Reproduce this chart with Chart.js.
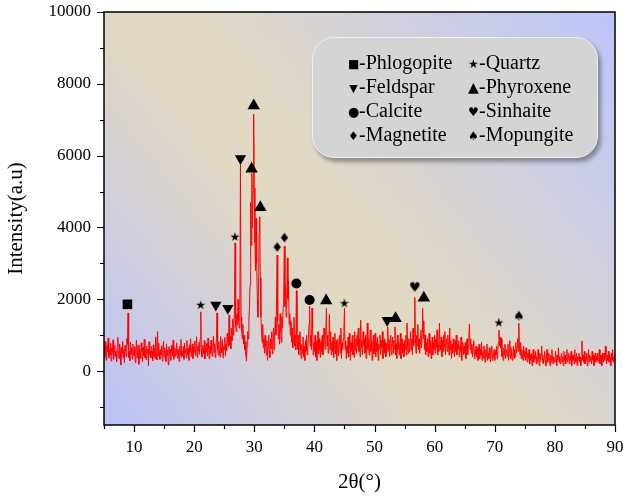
<!DOCTYPE html>
<html>
<head>
<meta charset="utf-8">
<script src="https://cdn.jsdelivr.net/npm/chart.js@4/dist/chart.umd.min.js"></script>
<style>
    html, body { margin: 0; padding: 0; background: #fff; }
    #wrap { position: relative; width: 624px; height: 497px; }
    #legend {
        position: absolute; left: 312px; top: 37px; width: 286px; height: 121px;
        box-sizing: border-box; border-radius: 22px; background: #d4d4d4;
        border: 1px solid #efefef; box-shadow: 3px 4px 4px rgba(0, 0, 0, 0.35);
        font-family: "Liberation Serif", "Times New Roman", serif; font-size: 20px; color: #000;
    }
    #legend .item { position: absolute; line-height: 24px; white-space: nowrap; }
    #legend .sym { display: inline-block; width: 11px; text-align: center; font-family: "DejaVu Sans", sans-serif; vertical-align: 1px; }
</style>
</head>
<body>
<div id="wrap">
    <canvas id="xrd" width="624" height="497"></canvas>
    <div id="legend"></div>
</div>
<script>
// scan grid (degrees 2-theta)
const twoThetaStart = 5;
const twoThetaStep = 0.1;

// measured intensity, one row per degree (5.0 ... 89.9), last value at 90.0
const intensity = [
    640, 380, 820, 470, 300, 710, 540, 920, 360, 590,
    450, 780, 280, 650, 510, 870, 330, 600, 720, 410,
    560, 260, 690, 940, 430, 350, 760, 520, 170, 670,
    480, 830, 370, 610, 240, 720, 560, 410, 900, 740,
    1620, 380, 560, 290, 810, 470, 640, 330, 750, 520,
    420, 680, 240, 590, 860, 360, 510, 730, 190, 620,
    470, 350, 790, 540, 260, 660, 430, 880, 380, 580,
    320, 700, 490, 610, 150, 820, 450, 560, 370, 690,
    540, 290, 730, 410, 620, 350, 950, 480, 310, 1100,
    420, 780, 520, 330, 600, 460, 710, 280, 570, 830,
    390, 640, 500, 270, 760, 440, 590, 180, 680, 490,
    610, 300, 720, 560, 420, 860, 330, 540, 650, 400,
    480, 790, 360, 620, 510, 270, 700, 450, 880, 380,
    560, 420, 690, 330, 780, 510, 620, 370, 850, 460,
    640, 300, 720, 530, 900, 410, 580, 760, 350, 680,
    520, 830, 440, 620, 960, 380, 700, 560, 810, 470,
    900, 1650, 560, 390, 720, 610, 480, 850, 340, 660,
    530, 770, 420, 920, 600, 350, 700, 480, 860, 570,
    410, 690, 980, 520, 760, 380, 640, 880, 1620, 600,
    450, 820, 570, 390, 960, 640, 510, 880, 370, 700,
    600, 940, 430, 760, 560, 1050, 820, 680, 1560, 720,
    980, 620, 1200, 850, 1450, 1000, 1300, 1600, 3570, 1250,
    1100, 1600, 1300, 2000, 1400, 1200, 1700, 5740, 1500, 1100,
    900, 1300, 750, 1000, 600, 820, 450, 280, 700, 1100,
    900, 1400, 1800, 2400, 4700, 3500, 5510, 4000, 5000, 7160,
    5100, 3600, 2800, 4260, 3000, 2000, 1500, 2200, 3840, 4300,
    2600, 1500, 1100, 800, 1300, 650, 900, 500, 1000, 700,
    450, 850, 300, 700, 1000, 550, 380, 900, 620, 1100,
    480, 800, 1200, 600, 950, 1500, 1000, 2000, 3230, 1400,
    900, 1300, 750, 1600, 1100, 800, 1500, 1200, 1800, 2200,
    3480, 1800, 2400, 1500, 2000, 3150, 2000, 2500, 1300, 1600,
    1000, 1400, 800, 1200, 650, 900, 1500, 700, 1000, 600,
    2240, 900, 600, 1000, 450, 800, 1100, 550, 350, 750,
    500, 950, 400, 700, 300, 850, 550, 1000, 450, 650,
    900, 1300, 1810, 700, 1000, 600, 1750, 1200, 450, 800,
    550, 1000, 400, 850, 300, 700, 1100, 480, 900, 620,
    380, 820, 550, 1000, 450, 700, 1200, 900, 600, 1100,
    1750, 700, 1000, 500, 900, 1590, 600, 1100, 450, 800,
    550, 950, 380, 700, 1050, 480, 850, 300, 650, 900,
    420, 750, 1000, 500, 1200, 350, 800, 600, 900, 1100,
    1750, 600, 850, 350, 700, 500, 950, 400, 1050, 650,
    300, 800, 550, 1000, 450, 750, 380, 1100, 600, 900,
    500, 1000, 700, 1200, 550, 900, 400, 1420, 650, 850,
    450, 1100, 700, 900, 500, 1000, 350, 800, 1340, 600,
    900, 450, 750, 1150, 550, 850, 300, 700, 1000, 480,
    650, 1050, 400, 800, 550, 950, 300, 750, 600, 1000,
    450, 850, 650, 1100, 350, 700, 900, 500, 800, 400,
    750, 600, 1230, 550, 900, 400, 800, 1000, 450, 700,
    950, 500, 850, 600, 1230, 450, 750, 350, 1000, 600,
    800, 450, 700, 1050, 350, 650, 900, 500, 750, 400,
    850, 600, 1000, 450, 1340, 700, 500, 900, 550, 800,
    1100, 600, 900, 450, 1200, 700, 800, 2050, 900, 500,
    1000, 700, 1300, 600, 900, 500, 800, 1150, 650, 1000,
    1750, 900, 1400, 600, 1000, 450, 800, 550, 900, 400,
    750, 1050, 500, 850, 350, 700, 950, 450, 800, 600,
    1000, 500, 900, 650, 1150, 450, 750, 550, 1340, 700,
    600, 950, 400, 850, 550, 1000, 650, 1100, 450, 800,
    900, 550, 1000, 700, 450, 1200, 600, 850, 350, 750,
    500, 900, 650, 400, 850, 550, 1000, 450, 750, 600,
    850, 400, 700, 550, 950, 300, 650, 800, 450, 700,
    500, 800, 350, 650, 900, 450, 700, 1000, 1310, 600,
    900, 500, 750, 400, 650, 850, 350, 600, 450, 700,
    400, 650, 300, 550, 750, 350, 600, 450, 800, 300,
    550, 350, 700, 450, 250, 600, 400, 750, 300, 500,
    350, 650, 450, 250, 550, 700, 300, 500, 400, 600,
    300, 550, 450, 700, 350, 600, 800, 1140, 700, 950,
    650, 900, 400, 550, 300, 650, 450, 750, 350, 500,
    600, 400, 750, 300, 550, 850, 350, 650, 450, 300,
    500, 700, 350, 600, 400, 800, 500, 650, 900, 550,
    1330, 700, 450, 800, 350, 600, 450, 300, 700, 400,
    550, 300, 650, 400, 250, 500, 350, 600, 200, 450,
    300, 500, 150, 400, 600, 250, 450, 350, 550, 200,
    400, 250, 600, 350, 150, 500, 300, 450, 700, 250,
    450, 200, 350, 550, 300, 150, 400, 600, 250, 350,
    500, 300, 150, 450, 250, 600, 350, 200, 400, 300,
    250, 550, 350, 150, 450, 300, 650, 250, 400, 200,
    350, 500, 250, 400, 150, 550, 300, 450, 200, 380,
    600, 250, 350, 500, 200, 400, 300, 550, 150, 450,
    300, 450, 200, 600, 350, 250, 500, 150, 400, 300,
    500, 250, 400, 150, 350, 840, 300, 450, 250, 550,
    200, 400, 300, 500, 150, 350, 600, 250, 450, 300,
    400, 200, 550, 300, 450, 150, 350, 500, 250, 400,
    300, 500, 250, 400, 600, 200, 350, 450, 150, 500,
    350, 250, 500, 300, 700, 400, 200, 450, 300, 550,
    250, 450, 350, 150, 500, 300, 600, 250, 400, 350,
    500
];

// phase markers: name, glyph, positions (2-theta) and heights
const phaseNames = ['Phlogopite', 'Quartz', 'Feldspar', 'Phyroxene', 'Calcite', 'Sinhaite', 'Magnetite', 'Mopungite'];
const phaseGlyphs = ['■', '★', '▼', '▲', '●', '♥', '♦', '♠'];
const phaseX = [
    [8.9],
    [21.1, 26.8, 45.0, 70.7],
    [23.6, 25.6, 27.7, 52.1],
    [29.55, 29.9, 31.0, 41.95, 53.5, 58.2],
    [37.0, 39.2],
    [56.7],
    [33.8, 35.0],
    [74.0]
];
const phaseY = [
    [1860],
    [1840, 3740, 1890, 1350],
    [1840, 1750, 5920, 1420],
    [5630, 7390, 4560, 1960, 1470, 2040],
    [2440, 1980],
    [2340],
    [3450, 3710],
    [1540]
];

const xTicks = [10, 20, 30, 40, 50, 60, 70, 80, 90];
const yTicks = [0, 2000, 4000, 6000, 8000, 10000];

const SERIF = '"Liberation Serif", "Times New Roman", serif';

// small canvas carrying a text glyph, used as a point style
const glyphCanvas = (ch, px) => {
    const c = document.createElement('canvas');
    c.width = px + 4;
    c.height = px + 4;
    const g = c.getContext('2d');
    g.fillStyle = '#000';
    g.font = `${px}px "DejaVu Sans"`;
    g.textAlign = 'center';
    g.textBaseline = 'middle';
    g.fillText(ch, c.width / 2, c.height / 2 + 1);
    return c;
};

const markerStyles = {
    'Phlogopite': { pointStyle: 'rect', pointRadius: 6.8 },
    'Quartz': { pointStyle: glyphCanvas('★', 12) },
    'Feldspar': { pointStyle: 'triangle', pointRadius: 6.5, rotation: 180 },
    'Phyroxene': { pointStyle: 'triangle', pointRadius: 7.2 },
    'Calcite': { pointStyle: 'circle', pointRadius: 5 },
    'Sinhaite': { pointStyle: glyphCanvas('♥', 13) },
    'Magnetite': { pointStyle: glyphCanvas('♦', 13) },
    'Mopungite': { pointStyle: glyphCanvas('♠', 13) }
};

const trace = intensity.map((v, i) => ({ x: twoThetaStart + i * twoThetaStep, y: v }));

const markerSets = phaseNames.map((name, k) => Object.assign({
    label: name,
    data: phaseX[k].map((x, j) => ({ x, y: phaseY[k][j] })),
    backgroundColor: '#000',
    borderColor: '#000',
    borderWidth: 0,
    pointRadius: 6,
    showLine: false,
    order: 0
}, markerStyles[name]));

// diagonal blue / beige fill behind the plot
const backdrop = {
    id: 'backdrop',
    beforeDraw(chart) {
        const { ctx, chartArea: a } = chart;
        const g = ctx.createLinearGradient(a.left, a.bottom, a.right, a.top);
        g.addColorStop(0, '#bcc2f8');
        g.addColorStop(0.4, '#e2d9c3');
        g.addColorStop(0.52, '#e0d8c6');
        g.addColorStop(1, '#bcc5fb');
        ctx.save();
        ctx.fillStyle = g;
        ctx.fillRect(a.left, a.top, a.right - a.left, a.bottom - a.top);
        ctx.restore();
    }
};

// frame plus major / minor tick marks outside the plot
const frame = {
    id: 'frame',
    afterDatasetsDraw(chart) {
        const { ctx, chartArea: a, scales } = chart;
        ctx.save();
        ctx.strokeStyle = '#000';
        ctx.lineWidth = 1.5;
        ctx.strokeRect(a.left, a.top, a.right - a.left, a.bottom - a.top);
        ctx.lineWidth = 1.2;
        ctx.beginPath();
        for (let v = -1000; v <= 10000; v += 1000) {
            const y = Math.round(scales.y.getPixelForValue(v)) + 0.5;
            const len = v % 2000 === 0 ? 7 : 4;
            ctx.moveTo(a.left, y);
            ctx.lineTo(a.left - len, y);
        }
        for (let v = 5; v <= 90; v += 5) {
            const x = Math.round(scales.x.getPixelForValue(v)) + 0.5;
            const len = v % 10 === 0 ? 7 : 4;
            ctx.moveTo(x, a.bottom);
            ctx.lineTo(x, a.bottom + len);
        }
        ctx.stroke();
        ctx.restore();
    }
};

// hidden tick marks only reserve the gap between axis and labels
const hiddenGrid = (len) => ({ display: true, drawOnChartArea: false, drawTicks: true, tickLength: len, color: 'rgba(0,0,0,0)' });

new Chart(document.getElementById('xrd'), {
    type: 'scatter',
    data: {
        datasets: [
            {
                label: 'XRD',
                data: trace,
                showLine: true,
                borderColor: '#ff0000',
                borderWidth: 1,
                pointRadius: 0,
                tension: 0,
                order: 1
            },
            ...markerSets
        ]
    },
    options: {
        responsive: false,
        animation: false,
        events: [],
        layout: { padding: { top: 12, right: 9, left: 0, bottom: 0 } },
        plugins: { legend: { display: false }, tooltip: { enabled: false } },
        scales: {
            x: {
                type: 'linear',
                min: 5,
                max: 90,
                grid: hiddenGrid(12),
                border: { display: false },
                afterFit: (s) => { s.height = 72; },
                afterBuildTicks: (s) => { s.ticks = xTicks.map(v => ({ value: v })); },
                ticks: { color: '#000', font: { family: SERIF, size: 17 }, padding: 0, maxRotation: 0, callback: v => String(v) },
                title: { display: true, text: '2θ(°)', color: '#000', font: { family: SERIF, size: 21 }, padding: { top: 0, bottom: 2 } }
            },
            y: {
                min: -1500,
                max: 10000,
                grid: hiddenGrid(13),
                border: { display: false },
                afterFit: (s) => { s.width = 104; },
                afterBuildTicks: (s) => { s.ticks = yTicks.map(v => ({ value: v })); },
                ticks: { color: '#000', font: { family: SERIF, size: 17 }, padding: 0, callback: v => String(v) },
                title: { display: true, text: 'Intensity(a.u)', color: '#000', font: { family: SERIF, size: 21 }, padding: { top: 4, bottom: 0 } }
            }
        }
    },
    plugins: [backdrop, frame]
});

// two-column phase key: left column at 35px, right column at 155px
const legendEl = document.getElementById('legend');
const glyphSizes = [12, 12, 11, 14, 13, 12, 12, 12];
phaseNames.forEach((name, k) => {
    const item = document.createElement('div');
    item.className = 'item';
    item.style.left = (k % 2 === 0 ? 35 : 155) + 'px';
    item.style.top = (12 + Math.floor(k / 2) * 24) + 'px';
    item.innerHTML = `<span class="sym" style="font-size:${glyphSizes[k]}px">${phaseGlyphs[k]}</span>-${name}`;
    legendEl.appendChild(item);
});
</script>
</body>
</html>
